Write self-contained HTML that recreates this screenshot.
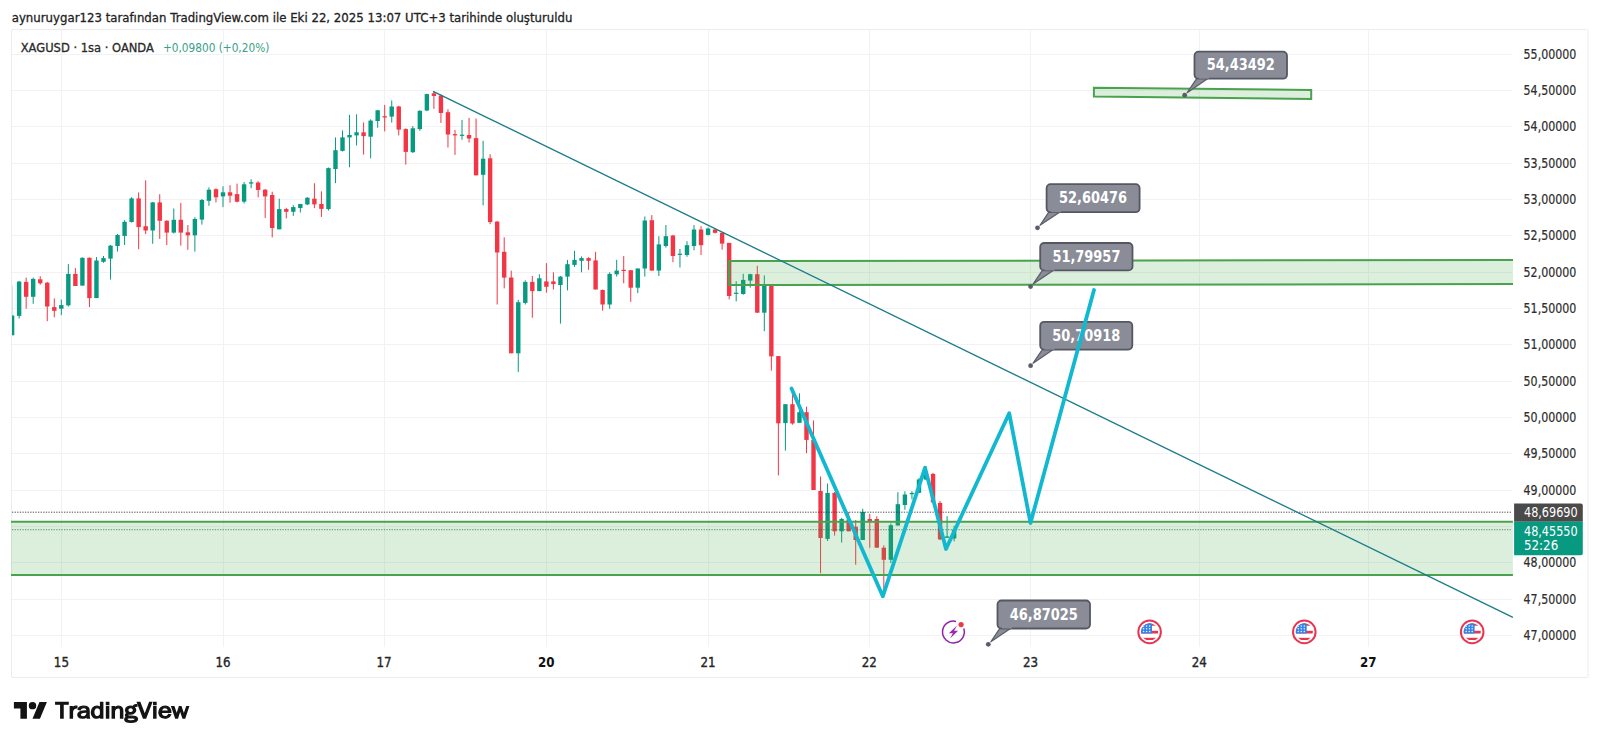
<!DOCTYPE html>
<html><head><meta charset="utf-8">
<style>
html,body{margin:0;padding:0;background:#fff;}
body{width:1600px;height:744px;overflow:hidden;position:relative;}
svg{position:absolute;left:0;top:0;}
</style></head><body>
<svg width="1600" height="744" viewBox="0 0 1600 744">
<defs><clipPath id="cp"><rect x="12" y="30" width="1500" height="617"/></clipPath></defs>
<rect x="11.5" y="29.5" width="1576.5" height="648" rx="1.5" fill="none" stroke="#ececec" stroke-width="1"/>
<line x1="12" y1="54.5" x2="1512" y2="54.5" stroke="#f2f2f4" stroke-width="1"/>
<line x1="12" y1="90.5" x2="1512" y2="90.5" stroke="#f2f2f4" stroke-width="1"/>
<line x1="12" y1="126.5" x2="1512" y2="126.5" stroke="#f2f2f4" stroke-width="1"/>
<line x1="12" y1="163.5" x2="1512" y2="163.5" stroke="#f2f2f4" stroke-width="1"/>
<line x1="12" y1="199.5" x2="1512" y2="199.5" stroke="#f2f2f4" stroke-width="1"/>
<line x1="12" y1="235.5" x2="1512" y2="235.5" stroke="#f2f2f4" stroke-width="1"/>
<line x1="12" y1="272.5" x2="1512" y2="272.5" stroke="#f2f2f4" stroke-width="1"/>
<line x1="12" y1="308.5" x2="1512" y2="308.5" stroke="#f2f2f4" stroke-width="1"/>
<line x1="12" y1="344.5" x2="1512" y2="344.5" stroke="#f2f2f4" stroke-width="1"/>
<line x1="12" y1="381.5" x2="1512" y2="381.5" stroke="#f2f2f4" stroke-width="1"/>
<line x1="12" y1="417.5" x2="1512" y2="417.5" stroke="#f2f2f4" stroke-width="1"/>
<line x1="12" y1="453.5" x2="1512" y2="453.5" stroke="#f2f2f4" stroke-width="1"/>
<line x1="12" y1="490.5" x2="1512" y2="490.5" stroke="#f2f2f4" stroke-width="1"/>
<line x1="12" y1="526.5" x2="1512" y2="526.5" stroke="#f2f2f4" stroke-width="1"/>
<line x1="12" y1="562.5" x2="1512" y2="562.5" stroke="#f2f2f4" stroke-width="1"/>
<line x1="12" y1="599.5" x2="1512" y2="599.5" stroke="#f2f2f4" stroke-width="1"/>
<line x1="12" y1="635.5" x2="1512" y2="635.5" stroke="#f2f2f4" stroke-width="1"/>
<line x1="61.5" y1="30" x2="61.5" y2="647" stroke="#f2f2f4" stroke-width="1"/>
<line x1="223.5" y1="30" x2="223.5" y2="647" stroke="#f2f2f4" stroke-width="1"/>
<line x1="384.5" y1="30" x2="384.5" y2="647" stroke="#f2f2f4" stroke-width="1"/>
<line x1="546.5" y1="30" x2="546.5" y2="647" stroke="#f2f2f4" stroke-width="1"/>
<line x1="708.5" y1="30" x2="708.5" y2="647" stroke="#f2f2f4" stroke-width="1"/>
<line x1="869.5" y1="30" x2="869.5" y2="647" stroke="#f2f2f4" stroke-width="1"/>
<line x1="1030.5" y1="30" x2="1030.5" y2="647" stroke="#f2f2f4" stroke-width="1"/>
<line x1="1199.5" y1="30" x2="1199.5" y2="647" stroke="#f2f2f4" stroke-width="1"/>
<line x1="1368.5" y1="30" x2="1368.5" y2="647" stroke="#f2f2f4" stroke-width="1"/>
<g clip-path="url(#cp)">
<rect x="11.60" y="285.6" width="1" height="49.7" fill="#089981" opacity="0.35"/>
<rect x="9.90" y="315.5" width="4.4" height="19.8" fill="#089981"/>
<rect x="18.63" y="280.9" width="1" height="37.6" fill="#089981"/>
<rect x="16.93" y="281.6" width="4.4" height="34.3" fill="#089981"/>
<rect x="25.66" y="277.6" width="1" height="31.1" fill="#F23645"/>
<rect x="23.96" y="281.9" width="4.4" height="14.9" fill="#F23645"/>
<rect x="32.69" y="277.6" width="1" height="26.2" fill="#089981"/>
<rect x="30.99" y="278.9" width="4.4" height="17.9" fill="#089981"/>
<rect x="39.72" y="276.2" width="1" height="8.5" fill="#F23645"/>
<rect x="38.02" y="279.3" width="4.4" height="4.0" fill="#F23645"/>
<rect x="46.75" y="281.9" width="1" height="39.3" fill="#F23645"/>
<rect x="45.05" y="282.7" width="4.4" height="23.8" fill="#F23645"/>
<rect x="53.78" y="298.4" width="1" height="18.8" fill="#F23645"/>
<rect x="52.08" y="307.1" width="4.4" height="3.7" fill="#F23645"/>
<rect x="60.81" y="299.5" width="1" height="15.7" fill="#089981"/>
<rect x="59.11" y="305.1" width="4.4" height="3.6" fill="#089981"/>
<rect x="67.84" y="264.1" width="1" height="42.4" fill="#089981"/>
<rect x="66.14" y="273.9" width="4.4" height="31.5" fill="#089981"/>
<rect x="74.87" y="268.1" width="1" height="17.9" fill="#F23645"/>
<rect x="73.17" y="273.9" width="4.4" height="12.1" fill="#F23645"/>
<rect x="81.90" y="257.4" width="1" height="28.2" fill="#089981"/>
<rect x="80.20" y="257.8" width="4.4" height="27.8" fill="#089981"/>
<rect x="88.93" y="257.4" width="1" height="49.7" fill="#F23645"/>
<rect x="87.23" y="257.8" width="4.4" height="40.3" fill="#F23645"/>
<rect x="95.96" y="257.0" width="1" height="41.1" fill="#089981"/>
<rect x="94.26" y="260.5" width="4.4" height="37.6" fill="#089981"/>
<rect x="102.99" y="256.0" width="1" height="6.8" fill="#089981"/>
<rect x="101.29" y="258.1" width="4.4" height="3.7" fill="#089981"/>
<rect x="110.02" y="245.0" width="1" height="34.6" fill="#089981"/>
<rect x="108.32" y="245.6" width="4.4" height="13.0" fill="#089981"/>
<rect x="117.05" y="234.0" width="1" height="17.6" fill="#089981"/>
<rect x="115.35" y="235.0" width="4.4" height="11.0" fill="#089981"/>
<rect x="124.08" y="220.2" width="1" height="24.8" fill="#089981"/>
<rect x="122.38" y="221.8" width="4.4" height="14.1" fill="#089981"/>
<rect x="131.11" y="197.2" width="1" height="25.4" fill="#089981"/>
<rect x="129.41" y="198.4" width="4.4" height="23.6" fill="#089981"/>
<rect x="138.14" y="192.4" width="1" height="56.8" fill="#F23645"/>
<rect x="136.44" y="198.4" width="4.4" height="28.7" fill="#F23645"/>
<rect x="145.17" y="180.3" width="1" height="53.8" fill="#F23645"/>
<rect x="143.47" y="226.2" width="4.4" height="4.3" fill="#F23645"/>
<rect x="152.20" y="202.0" width="1" height="41.8" fill="#089981"/>
<rect x="150.50" y="202.4" width="4.4" height="28.1" fill="#089981"/>
<rect x="159.23" y="194.2" width="1" height="44.7" fill="#F23645"/>
<rect x="157.53" y="202.4" width="4.4" height="18.4" fill="#F23645"/>
<rect x="166.26" y="220.2" width="1" height="24.8" fill="#F23645"/>
<rect x="164.56" y="220.8" width="4.4" height="11.8" fill="#F23645"/>
<rect x="173.29" y="208.5" width="1" height="25.0" fill="#089981"/>
<rect x="171.59" y="219.8" width="4.4" height="12.8" fill="#089981"/>
<rect x="180.32" y="202.9" width="1" height="42.7" fill="#F23645"/>
<rect x="178.62" y="219.8" width="4.4" height="12.8" fill="#F23645"/>
<rect x="187.35" y="225.0" width="1" height="24.8" fill="#F23645"/>
<rect x="185.65" y="232.3" width="4.4" height="3.0" fill="#F23645"/>
<rect x="194.38" y="217.2" width="1" height="34.4" fill="#089981"/>
<rect x="192.68" y="219.0" width="4.4" height="16.3" fill="#089981"/>
<rect x="201.41" y="199.0" width="1" height="25.6" fill="#089981"/>
<rect x="199.71" y="200.0" width="4.4" height="19.6" fill="#089981"/>
<rect x="208.44" y="187.4" width="1" height="18.4" fill="#089981"/>
<rect x="206.74" y="189.7" width="4.4" height="11.1" fill="#089981"/>
<rect x="215.47" y="188.3" width="1" height="14.1" fill="#F23645"/>
<rect x="213.77" y="189.2" width="4.4" height="8.1" fill="#F23645"/>
<rect x="222.50" y="186.3" width="1" height="20.8" fill="#089981"/>
<rect x="220.80" y="192.3" width="4.4" height="4.1" fill="#089981"/>
<rect x="229.53" y="185.2" width="1" height="17.5" fill="#F23645"/>
<rect x="227.83" y="192.3" width="4.4" height="3.4" fill="#F23645"/>
<rect x="236.56" y="183.6" width="1" height="18.8" fill="#F23645"/>
<rect x="234.86" y="194.1" width="4.4" height="7.6" fill="#F23645"/>
<rect x="243.59" y="182.0" width="1" height="21.5" fill="#089981"/>
<rect x="241.89" y="184.3" width="4.4" height="17.4" fill="#089981"/>
<rect x="250.62" y="179.3" width="1" height="9.0" fill="#089981"/>
<rect x="248.92" y="182.3" width="4.4" height="1.3" fill="#089981"/>
<rect x="257.65" y="181.2" width="1" height="16.1" fill="#F23645"/>
<rect x="255.95" y="182.5" width="4.4" height="7.5" fill="#F23645"/>
<rect x="264.68" y="189.0" width="1" height="28.9" fill="#F23645"/>
<rect x="262.98" y="189.7" width="4.4" height="6.7" fill="#F23645"/>
<rect x="271.71" y="191.7" width="1" height="45.7" fill="#F23645"/>
<rect x="270.01" y="195.0" width="4.4" height="33.0" fill="#F23645"/>
<rect x="278.74" y="198.7" width="1" height="30.6" fill="#089981"/>
<rect x="277.04" y="209.1" width="4.4" height="20.2" fill="#089981"/>
<rect x="285.77" y="207.8" width="1" height="10.7" fill="#F23645"/>
<rect x="284.07" y="209.1" width="4.4" height="2.7" fill="#F23645"/>
<rect x="292.80" y="205.1" width="1" height="10.8" fill="#089981"/>
<rect x="291.10" y="207.1" width="4.4" height="4.7" fill="#089981"/>
<rect x="299.83" y="203.8" width="1" height="8.7" fill="#089981"/>
<rect x="298.13" y="204.0" width="4.4" height="4.0" fill="#089981"/>
<rect x="306.86" y="197.3" width="1" height="7.8" fill="#089981"/>
<rect x="305.16" y="197.7" width="4.4" height="6.7" fill="#089981"/>
<rect x="313.89" y="183.3" width="1" height="24.8" fill="#F23645"/>
<rect x="312.19" y="198.7" width="4.4" height="5.7" fill="#F23645"/>
<rect x="320.92" y="191.4" width="1" height="25.5" fill="#F23645"/>
<rect x="319.22" y="204.0" width="4.4" height="4.9" fill="#F23645"/>
<rect x="327.95" y="167.5" width="1" height="43.0" fill="#089981"/>
<rect x="326.25" y="168.1" width="4.4" height="41.0" fill="#089981"/>
<rect x="334.98" y="137.4" width="1" height="45.7" fill="#089981"/>
<rect x="333.28" y="150.2" width="4.4" height="18.8" fill="#089981"/>
<rect x="342.01" y="130.4" width="1" height="21.1" fill="#089981"/>
<rect x="340.31" y="137.4" width="4.4" height="13.5" fill="#089981"/>
<rect x="349.04" y="114.8" width="1" height="52.5" fill="#089981"/>
<rect x="347.34" y="135.0" width="4.4" height="2.4" fill="#089981"/>
<rect x="356.07" y="114.3" width="1" height="31.2" fill="#089981"/>
<rect x="354.37" y="132.3" width="4.4" height="3.1" fill="#089981"/>
<rect x="363.10" y="122.4" width="1" height="32.2" fill="#F23645"/>
<rect x="361.40" y="132.3" width="4.4" height="3.8" fill="#F23645"/>
<rect x="370.13" y="119.3" width="1" height="39.0" fill="#089981"/>
<rect x="368.43" y="120.6" width="4.4" height="16.1" fill="#089981"/>
<rect x="377.16" y="109.9" width="1" height="17.8" fill="#089981"/>
<rect x="375.46" y="110.3" width="4.4" height="10.7" fill="#089981"/>
<rect x="384.19" y="104.9" width="1" height="26.5" fill="#F23645"/>
<rect x="382.49" y="116.2" width="4.4" height="1.3" fill="#F23645"/>
<rect x="391.22" y="100.5" width="1" height="22.1" fill="#089981"/>
<rect x="389.52" y="106.5" width="4.4" height="10.1" fill="#089981"/>
<rect x="398.25" y="105.8" width="1" height="29.6" fill="#F23645"/>
<rect x="396.55" y="106.5" width="4.4" height="23.1" fill="#F23645"/>
<rect x="405.28" y="128.3" width="1" height="36.3" fill="#F23645"/>
<rect x="403.58" y="129.1" width="4.4" height="22.8" fill="#F23645"/>
<rect x="412.31" y="126.0" width="1" height="26.9" fill="#089981"/>
<rect x="410.61" y="128.3" width="4.4" height="23.9" fill="#089981"/>
<rect x="419.34" y="110.3" width="1" height="20.4" fill="#089981"/>
<rect x="417.64" y="110.8" width="4.4" height="18.3" fill="#089981"/>
<rect x="426.37" y="93.7" width="1" height="17.5" fill="#089981"/>
<rect x="424.67" y="94.1" width="4.4" height="16.4" fill="#089981"/>
<rect x="433.40" y="91.0" width="1" height="17.9" fill="#F23645"/>
<rect x="431.70" y="93.3" width="4.4" height="2.7" fill="#F23645"/>
<rect x="440.43" y="94.4" width="1" height="28.5" fill="#F23645"/>
<rect x="438.73" y="95.5" width="4.4" height="17.5" fill="#F23645"/>
<rect x="447.46" y="109.2" width="1" height="38.3" fill="#F23645"/>
<rect x="445.76" y="112.2" width="4.4" height="22.3" fill="#F23645"/>
<rect x="454.49" y="130.0" width="1" height="24.9" fill="#F23645"/>
<rect x="452.79" y="134.1" width="4.4" height="1.3" fill="#F23645"/>
<rect x="461.52" y="119.9" width="1" height="19.9" fill="#089981"/>
<rect x="459.82" y="134.7" width="4.4" height="1.2" fill="#089981"/>
<rect x="468.55" y="117.9" width="1" height="24.6" fill="#F23645"/>
<rect x="466.85" y="135.0" width="4.4" height="3.5" fill="#F23645"/>
<rect x="475.58" y="118.6" width="1" height="56.7" fill="#F23645"/>
<rect x="473.88" y="138.1" width="4.4" height="37.2" fill="#F23645"/>
<rect x="482.61" y="140.8" width="1" height="64.6" fill="#089981"/>
<rect x="480.91" y="158.7" width="4.4" height="16.1" fill="#089981"/>
<rect x="489.64" y="154.2" width="1" height="70.0" fill="#F23645"/>
<rect x="487.94" y="158.3" width="4.4" height="63.8" fill="#F23645"/>
<rect x="496.67" y="221.0" width="1" height="83.5" fill="#F23645"/>
<rect x="494.97" y="221.6" width="4.4" height="30.9" fill="#F23645"/>
<rect x="503.70" y="237.3" width="1" height="51.1" fill="#F23645"/>
<rect x="502.00" y="251.8" width="4.4" height="25.8" fill="#F23645"/>
<rect x="510.73" y="270.6" width="1" height="82.7" fill="#F23645"/>
<rect x="509.03" y="277.5" width="4.4" height="75.8" fill="#F23645"/>
<rect x="517.76" y="299.8" width="1" height="72.3" fill="#089981"/>
<rect x="516.06" y="302.2" width="4.4" height="51.1" fill="#089981"/>
<rect x="524.79" y="280.3" width="1" height="24.2" fill="#089981"/>
<rect x="523.09" y="281.9" width="4.4" height="21.0" fill="#089981"/>
<rect x="531.82" y="276.0" width="1" height="41.7" fill="#F23645"/>
<rect x="530.12" y="281.9" width="4.4" height="9.2" fill="#F23645"/>
<rect x="538.85" y="274.3" width="1" height="16.8" fill="#089981"/>
<rect x="537.15" y="278.3" width="4.4" height="12.8" fill="#089981"/>
<rect x="545.88" y="263.1" width="1" height="29.6" fill="#F23645"/>
<rect x="544.18" y="281.4" width="4.4" height="5.4" fill="#F23645"/>
<rect x="552.91" y="272.3" width="1" height="17.2" fill="#F23645"/>
<rect x="551.21" y="281.4" width="4.4" height="2.7" fill="#F23645"/>
<rect x="559.94" y="276.0" width="1" height="47.6" fill="#089981"/>
<rect x="558.24" y="276.6" width="4.4" height="8.4" fill="#089981"/>
<rect x="566.97" y="259.9" width="1" height="30.5" fill="#089981"/>
<rect x="565.27" y="264.2" width="4.4" height="12.4" fill="#089981"/>
<rect x="574.00" y="250.8" width="1" height="16.1" fill="#089981"/>
<rect x="572.30" y="259.9" width="4.4" height="5.0" fill="#089981"/>
<rect x="581.03" y="256.4" width="1" height="15.9" fill="#089981"/>
<rect x="579.33" y="258.1" width="4.4" height="2.7" fill="#089981"/>
<rect x="588.06" y="257.2" width="1" height="12.6" fill="#F23645"/>
<rect x="586.36" y="258.1" width="4.4" height="2.7" fill="#F23645"/>
<rect x="595.09" y="251.8" width="1" height="37.7" fill="#F23645"/>
<rect x="593.39" y="260.4" width="4.4" height="29.1" fill="#F23645"/>
<rect x="602.12" y="289.5" width="1" height="21.1" fill="#F23645"/>
<rect x="600.42" y="290.0" width="4.4" height="14.5" fill="#F23645"/>
<rect x="609.15" y="272.3" width="1" height="36.5" fill="#089981"/>
<rect x="607.45" y="273.9" width="4.4" height="30.6" fill="#089981"/>
<rect x="616.18" y="259.9" width="1" height="16.7" fill="#089981"/>
<rect x="614.48" y="270.6" width="4.4" height="3.7" fill="#089981"/>
<rect x="623.21" y="256.1" width="1" height="27.2" fill="#F23645"/>
<rect x="621.51" y="269.8" width="4.4" height="1.2" fill="#F23645"/>
<rect x="630.24" y="270.2" width="1" height="31.6" fill="#F23645"/>
<rect x="628.54" y="270.2" width="4.4" height="17.5" fill="#F23645"/>
<rect x="637.27" y="268.5" width="1" height="24.6" fill="#089981"/>
<rect x="635.57" y="268.5" width="4.4" height="19.2" fill="#089981"/>
<rect x="644.30" y="216.5" width="1" height="60.1" fill="#089981"/>
<rect x="642.60" y="220.5" width="4.4" height="48.0" fill="#089981"/>
<rect x="651.33" y="215.1" width="1" height="55.5" fill="#F23645"/>
<rect x="649.63" y="220.2" width="4.4" height="50.4" fill="#F23645"/>
<rect x="658.36" y="236.3" width="1" height="39.7" fill="#089981"/>
<rect x="656.66" y="244.4" width="4.4" height="26.2" fill="#089981"/>
<rect x="665.39" y="225.0" width="1" height="22.6" fill="#089981"/>
<rect x="663.69" y="236.2" width="4.4" height="9.8" fill="#089981"/>
<rect x="672.42" y="234.9" width="1" height="27.3" fill="#F23645"/>
<rect x="670.72" y="235.5" width="4.4" height="20.5" fill="#F23645"/>
<rect x="679.45" y="249.0" width="1" height="18.5" fill="#089981"/>
<rect x="677.75" y="253.7" width="4.4" height="1.2" fill="#089981"/>
<rect x="686.48" y="241.2" width="1" height="15.6" fill="#089981"/>
<rect x="684.78" y="245.2" width="4.4" height="9.8" fill="#089981"/>
<rect x="693.51" y="225.0" width="1" height="25.3" fill="#089981"/>
<rect x="691.81" y="229.5" width="4.4" height="16.5" fill="#089981"/>
<rect x="700.54" y="226.1" width="1" height="28.9" fill="#F23645"/>
<rect x="698.84" y="229.5" width="4.4" height="15.7" fill="#F23645"/>
<rect x="707.57" y="227.5" width="1" height="8.0" fill="#089981"/>
<rect x="705.87" y="228.5" width="4.4" height="6.4" fill="#089981"/>
<rect x="714.60" y="228.8" width="1" height="4.7" fill="#F23645"/>
<rect x="712.90" y="229.5" width="4.4" height="3.3" fill="#F23645"/>
<rect x="721.63" y="232.2" width="1" height="17.5" fill="#F23645"/>
<rect x="719.93" y="232.8" width="4.4" height="10.8" fill="#F23645"/>
<rect x="728.66" y="242.9" width="1" height="56.5" fill="#F23645"/>
<rect x="726.96" y="242.9" width="4.4" height="53.1" fill="#F23645"/>
<rect x="735.69" y="281.2" width="1" height="20.2" fill="#089981"/>
<rect x="733.99" y="292.7" width="4.4" height="1.2" fill="#089981"/>
<rect x="742.72" y="273.8" width="1" height="20.9" fill="#089981"/>
<rect x="741.02" y="279.9" width="4.4" height="14.1" fill="#089981"/>
<rect x="749.75" y="273.8" width="1" height="13.9" fill="#089981"/>
<rect x="748.05" y="274.2" width="4.4" height="6.4" fill="#089981"/>
<rect x="756.78" y="265.8" width="1" height="46.9" fill="#F23645"/>
<rect x="755.08" y="274.2" width="4.4" height="38.5" fill="#F23645"/>
<rect x="763.81" y="275.4" width="1" height="55.8" fill="#089981"/>
<rect x="762.11" y="285.9" width="4.4" height="26.8" fill="#089981"/>
<rect x="770.84" y="285.9" width="1" height="84.7" fill="#F23645"/>
<rect x="769.14" y="285.9" width="4.4" height="70.5" fill="#F23645"/>
<rect x="777.87" y="356.1" width="1" height="119.3" fill="#F23645"/>
<rect x="776.17" y="356.1" width="4.4" height="67.2" fill="#F23645"/>
<rect x="784.90" y="404.2" width="1" height="46.4" fill="#089981"/>
<rect x="783.20" y="404.2" width="4.4" height="18.9" fill="#089981"/>
<rect x="791.93" y="393.3" width="1" height="31.4" fill="#F23645"/>
<rect x="790.23" y="404.2" width="4.4" height="19.3" fill="#F23645"/>
<rect x="798.96" y="393.3" width="1" height="29.5" fill="#089981"/>
<rect x="797.26" y="412.2" width="4.4" height="10.6" fill="#089981"/>
<rect x="805.99" y="406.7" width="1" height="46.4" fill="#F23645"/>
<rect x="804.29" y="412.2" width="4.4" height="27.7" fill="#F23645"/>
<rect x="813.02" y="420.4" width="1" height="69.6" fill="#F23645"/>
<rect x="811.32" y="439.9" width="4.4" height="50.1" fill="#F23645"/>
<rect x="820.05" y="476.4" width="1" height="96.8" fill="#F23645"/>
<rect x="818.35" y="491.0" width="4.4" height="47.0" fill="#F23645"/>
<rect x="827.08" y="483.5" width="1" height="57.5" fill="#089981"/>
<rect x="825.38" y="492.9" width="4.4" height="46.0" fill="#089981"/>
<rect x="834.11" y="492.0" width="1" height="43.6" fill="#F23645"/>
<rect x="832.41" y="492.9" width="4.4" height="38.4" fill="#F23645"/>
<rect x="841.14" y="517.9" width="1" height="24.7" fill="#089981"/>
<rect x="839.44" y="519.0" width="4.4" height="12.3" fill="#089981"/>
<rect x="848.17" y="512.0" width="1" height="19.3" fill="#F23645"/>
<rect x="846.47" y="519.5" width="4.4" height="11.8" fill="#F23645"/>
<rect x="855.20" y="520.0" width="1" height="44.7" fill="#F23645"/>
<rect x="853.50" y="526.8" width="4.4" height="13.2" fill="#F23645"/>
<rect x="862.23" y="508.7" width="1" height="31.3" fill="#089981"/>
<rect x="860.53" y="511.9" width="4.4" height="28.1" fill="#089981"/>
<rect x="869.26" y="513.9" width="1" height="33.8" fill="#F23645"/>
<rect x="867.56" y="519.0" width="4.4" height="2.1" fill="#F23645"/>
<rect x="876.29" y="516.3" width="1" height="31.4" fill="#F23645"/>
<rect x="874.59" y="519.0" width="4.4" height="28.7" fill="#F23645"/>
<rect x="883.32" y="545.3" width="1" height="47.6" fill="#F23645"/>
<rect x="881.62" y="547.7" width="4.4" height="12.1" fill="#F23645"/>
<rect x="890.35" y="523.5" width="1" height="39.5" fill="#089981"/>
<rect x="888.65" y="525.2" width="4.4" height="34.6" fill="#089981"/>
<rect x="897.38" y="492.1" width="1" height="33.4" fill="#089981"/>
<rect x="895.68" y="504.2" width="4.4" height="21.3" fill="#089981"/>
<rect x="904.41" y="491.3" width="1" height="18.5" fill="#089981"/>
<rect x="902.71" y="494.5" width="4.4" height="10.5" fill="#089981"/>
<rect x="911.44" y="491.3" width="1" height="8.1" fill="#089981"/>
<rect x="909.74" y="492.9" width="4.4" height="1.3" fill="#089981"/>
<rect x="918.47" y="478.0" width="1" height="15.0" fill="#089981"/>
<rect x="916.77" y="479.5" width="4.4" height="13.3" fill="#089981"/>
<rect x="925.50" y="466.0" width="1" height="14.0" fill="#089981"/>
<rect x="923.80" y="473.9" width="4.4" height="5.6" fill="#089981"/>
<rect x="932.53" y="472.9" width="1" height="30.1" fill="#F23645"/>
<rect x="930.83" y="473.9" width="4.4" height="28.5" fill="#F23645"/>
<rect x="939.56" y="501.0" width="1" height="39.1" fill="#F23645"/>
<rect x="937.86" y="502.9" width="4.4" height="36.5" fill="#F23645"/>
<rect x="946.59" y="516.1" width="1" height="21.9" fill="#089981"/>
<rect x="944.89" y="536.4" width="4.4" height="1.4" fill="#089981"/>
<rect x="953.62" y="525.8" width="1" height="15.5" fill="#089981"/>
<rect x="951.92" y="529.6" width="4.4" height="8.9" fill="#089981"/>
</g>
<line x1="12" y1="512.2" x2="1512" y2="512.2" stroke="#333" stroke-width="1" stroke-dasharray="1.3 1.3" opacity="0.85"/>
<rect x="11" y="521.8" width="1501.9" height="53.2" fill="rgba(76,175,80,0.2)"/>
<line x1="11" y1="521.8" x2="1512.9" y2="521.8" stroke="#4aa24e" stroke-width="2"/>
<line x1="11" y1="575" x2="1512.9" y2="575" stroke="#4aa24e" stroke-width="2"/>
<line x1="12" y1="529.7" x2="1512" y2="529.7" stroke="#2f6e5c" stroke-width="1" stroke-dasharray="1.3 1.3" opacity="0.75"/>
<path d="M1513 260.0 L729.1 261.1 L729.1 285.0 L1513 284.1 Z" fill="rgba(76,175,80,0.2)"/>
<path d="M1513 260.0 L729.1 261.1 L729.1 285.0 L1513 284.1" fill="none" stroke="#4aa24e" stroke-width="2"/>
<path d="M1093.9 87.7 L1311.2 90 L1311.2 98.9 L1093.9 96.5 Z" fill="rgba(76,175,80,0.2)" stroke="#4aa24e" stroke-width="2"/>
<line x1="433.1" y1="91.3" x2="1512.9" y2="617.3" stroke="#1b7c8a" stroke-width="1.3"/>
<path d="M1198.0 76.7 L1187.2 92.7 L1209.0 77.7 Z" fill="#8a8d98" stroke="#5a5d68" stroke-width="1.2" stroke-linejoin="round"/>
<rect x="1194.5" y="51.7" width="92.5" height="27" rx="4" fill="#8a8d98" stroke="#555863" stroke-width="1.8"/>
<rect x="1198.8" y="75.7" width="10.0" height="3" fill="#8a8d98"/>
<circle cx="1184.7" cy="95.2" r="2.4" fill="#5a5d68"/>
<text x="1240.8" y="70.2" font-family="'DejaVu Sans Condensed','DejaVu Sans',sans-serif" font-size="16" font-weight="700" fill="#fff" text-anchor="middle" textLength="68" lengthAdjust="spacingAndGlyphs">54,43492</text>
<path d="M1050.1 210.2 L1040.0 225.3 L1061.1 211.2 Z" fill="#8a8d98" stroke="#5a5d68" stroke-width="1.2" stroke-linejoin="round"/>
<rect x="1046.6" y="184.2" width="93" height="28" rx="4" fill="#8a8d98" stroke="#555863" stroke-width="1.8"/>
<rect x="1050.8999999999999" y="209.2" width="10.0" height="3" fill="#8a8d98"/>
<circle cx="1037.5" cy="227.8" r="2.4" fill="#5a5d68"/>
<text x="1093.1" y="203.2" font-family="'DejaVu Sans Condensed','DejaVu Sans',sans-serif" font-size="16" font-weight="700" fill="#fff" text-anchor="middle" textLength="68" lengthAdjust="spacingAndGlyphs">52,60476</text>
<path d="M1043.7 268.4 L1033.1 284.1 L1054.7 269.4 Z" fill="#8a8d98" stroke="#5a5d68" stroke-width="1.2" stroke-linejoin="round"/>
<rect x="1040.2" y="243.0" width="92.3" height="27.4" rx="4" fill="#8a8d98" stroke="#555863" stroke-width="1.8"/>
<rect x="1044.5" y="267.4" width="10.0" height="3" fill="#8a8d98"/>
<circle cx="1030.6" cy="286.6" r="2.4" fill="#5a5d68"/>
<text x="1086.4" y="261.7" font-family="'DejaVu Sans Condensed','DejaVu Sans',sans-serif" font-size="16" font-weight="700" fill="#fff" text-anchor="middle" textLength="68" lengthAdjust="spacingAndGlyphs">51,79957</text>
<path d="M1043.7 347.6 L1033.1 363.2 L1054.7 348.6 Z" fill="#8a8d98" stroke="#5a5d68" stroke-width="1.2" stroke-linejoin="round"/>
<rect x="1040.2" y="321.8" width="92.1" height="27.8" rx="4" fill="#8a8d98" stroke="#555863" stroke-width="1.8"/>
<rect x="1044.5" y="346.6" width="10.0" height="3" fill="#8a8d98"/>
<circle cx="1030.6" cy="365.7" r="2.4" fill="#5a5d68"/>
<text x="1086.2" y="340.7" font-family="'DejaVu Sans Condensed','DejaVu Sans',sans-serif" font-size="16" font-weight="700" fill="#fff" text-anchor="middle" textLength="68" lengthAdjust="spacingAndGlyphs">50,70918</text>
<path d="M1001.0 626.5 L990.8 641.8 L1012.0 627.5 Z" fill="#8a8d98" stroke="#5a5d68" stroke-width="1.2" stroke-linejoin="round"/>
<rect x="997.5" y="600.5" width="92.5" height="28" rx="4" fill="#8a8d98" stroke="#555863" stroke-width="1.8"/>
<rect x="1001.8" y="625.5" width="10.0" height="3" fill="#8a8d98"/>
<circle cx="988.3" cy="644.3" r="2.4" fill="#5a5d68"/>
<text x="1043.8" y="619.5" font-family="'DejaVu Sans Condensed','DejaVu Sans',sans-serif" font-size="16" font-weight="700" fill="#fff" text-anchor="middle" textLength="68" lengthAdjust="spacingAndGlyphs">46,87025</text>
<polyline points="791.5,388.5 882.8,596.3 925,467.8 946.0,549.0 1009.2,413.2 1030.5,523 1094,290" fill="none" stroke="#12b8d0" stroke-width="3.8" stroke-linejoin="round" stroke-linecap="round"/>
<g transform="translate(1149.6,631.9)">
<circle r="11.3" fill="#fff" stroke="#e8344e" stroke-width="2"/>
<clipPath id="fc1149"><circle r="8.6"/></clipPath>
<g clip-path="url(#fc1149)">
<rect x="-9" y="-9" width="18" height="18" fill="#fff"/>
<rect x="-9" y="-9" width="18" height="2.8" fill="#e8344e"/>
<rect x="-9" y="-1.1" width="18" height="2.7" fill="#e8344e"/>
<rect x="-9" y="5.9" width="18" height="2.2" fill="#e8344e"/>
<rect x="-9" y="-9" width="11.4" height="10.6" fill="#3483e6"/>
<circle cx="-6" cy="-5.8" r="0.8" fill="#e6f0ff"/>
<circle cx="-3" cy="-5.8" r="0.8" fill="#e6f0ff"/>
<circle cx="0" cy="-5.8" r="0.8" fill="#e6f0ff"/>
<circle cx="-6" cy="-3.1" r="0.8" fill="#e6f0ff"/>
<circle cx="-3" cy="-3.1" r="0.8" fill="#e6f0ff"/>
<circle cx="0" cy="-3.1" r="0.8" fill="#e6f0ff"/>
<circle cx="-6" cy="-0.4" r="0.8" fill="#e6f0ff"/>
<circle cx="-3" cy="-0.4" r="0.8" fill="#e6f0ff"/>
<circle cx="0" cy="-0.4" r="0.8" fill="#e6f0ff"/>
</g></g>
<g transform="translate(1304.3,631.9)">
<circle r="11.3" fill="#fff" stroke="#e8344e" stroke-width="2"/>
<clipPath id="fc1304"><circle r="8.6"/></clipPath>
<g clip-path="url(#fc1304)">
<rect x="-9" y="-9" width="18" height="18" fill="#fff"/>
<rect x="-9" y="-9" width="18" height="2.8" fill="#e8344e"/>
<rect x="-9" y="-1.1" width="18" height="2.7" fill="#e8344e"/>
<rect x="-9" y="5.9" width="18" height="2.2" fill="#e8344e"/>
<rect x="-9" y="-9" width="11.4" height="10.6" fill="#3483e6"/>
<circle cx="-6" cy="-5.8" r="0.8" fill="#e6f0ff"/>
<circle cx="-3" cy="-5.8" r="0.8" fill="#e6f0ff"/>
<circle cx="0" cy="-5.8" r="0.8" fill="#e6f0ff"/>
<circle cx="-6" cy="-3.1" r="0.8" fill="#e6f0ff"/>
<circle cx="-3" cy="-3.1" r="0.8" fill="#e6f0ff"/>
<circle cx="0" cy="-3.1" r="0.8" fill="#e6f0ff"/>
<circle cx="-6" cy="-0.4" r="0.8" fill="#e6f0ff"/>
<circle cx="-3" cy="-0.4" r="0.8" fill="#e6f0ff"/>
<circle cx="0" cy="-0.4" r="0.8" fill="#e6f0ff"/>
</g></g>
<g transform="translate(1472.2,631.9)">
<circle r="11.3" fill="#fff" stroke="#e8344e" stroke-width="2"/>
<clipPath id="fc1472"><circle r="8.6"/></clipPath>
<g clip-path="url(#fc1472)">
<rect x="-9" y="-9" width="18" height="18" fill="#fff"/>
<rect x="-9" y="-9" width="18" height="2.8" fill="#e8344e"/>
<rect x="-9" y="-1.1" width="18" height="2.7" fill="#e8344e"/>
<rect x="-9" y="5.9" width="18" height="2.2" fill="#e8344e"/>
<rect x="-9" y="-9" width="11.4" height="10.6" fill="#3483e6"/>
<circle cx="-6" cy="-5.8" r="0.8" fill="#e6f0ff"/>
<circle cx="-3" cy="-5.8" r="0.8" fill="#e6f0ff"/>
<circle cx="0" cy="-5.8" r="0.8" fill="#e6f0ff"/>
<circle cx="-6" cy="-3.1" r="0.8" fill="#e6f0ff"/>
<circle cx="-3" cy="-3.1" r="0.8" fill="#e6f0ff"/>
<circle cx="0" cy="-3.1" r="0.8" fill="#e6f0ff"/>
<circle cx="-6" cy="-0.4" r="0.8" fill="#e6f0ff"/>
<circle cx="-3" cy="-0.4" r="0.8" fill="#e6f0ff"/>
<circle cx="0" cy="-0.4" r="0.8" fill="#e6f0ff"/>
</g></g>
<g transform="translate(953.5,632)">
<path d="M2.6 -10.6 A10.9 10.9 0 1 0 10.3 -3.4" fill="none" stroke="#8e24aa" stroke-width="1.5"/>
<path d="M3.4 -6.6 L-4.6 1.2 L-0.6 1.2 L-3.4 6.6 L4.6 -1.2 L0.6 -1.2 Z" fill="#9c27b0"/>
<circle cx="7.6" cy="-7.4" r="2.6" fill="#f23645"/>
</g>
<text x="11.7" y="21.5" font-family="'DejaVu Sans','DejaVu Sans Condensed',sans-serif" font-size="12.4" font-weight="400" fill="#222" text-anchor="start" textLength="560.8" lengthAdjust="spacingAndGlyphs" stroke="#222" stroke-width="0.3">aynuruygar123 tarafından TradingView.com ile Eki 22, 2025 13:07 UTC+3 tarihinde oluşturuldu</text>
<text x="20.7" y="51.9" font-family="'DejaVu Sans Condensed','DejaVu Sans',sans-serif" font-size="12.9" font-weight="400" fill="#2a2a2a" text-anchor="start" textLength="133.2" lengthAdjust="spacingAndGlyphs" stroke="#2a2a2a" stroke-width="0.3">XAGUSD · 1sa · OANDA</text>
<text x="162.9" y="51.9" font-family="'DejaVu Sans Condensed','DejaVu Sans',sans-serif" font-size="12.9" font-weight="400" fill="#3a9f86" text-anchor="start" textLength="106.4" lengthAdjust="spacingAndGlyphs">+0,09800 (+0,20%)</text>
<text x="1523.6" y="58.6" font-family="'DejaVu Sans Condensed','DejaVu Sans',sans-serif" font-size="13.2" font-weight="400" fill="#2e2e2e" text-anchor="start" textLength="52.7" lengthAdjust="spacingAndGlyphs" stroke="#2e2e2e" stroke-width="0.2">55,00000</text>
<text x="1523.6" y="94.9" font-family="'DejaVu Sans Condensed','DejaVu Sans',sans-serif" font-size="13.2" font-weight="400" fill="#2e2e2e" text-anchor="start" textLength="52.7" lengthAdjust="spacingAndGlyphs" stroke="#2e2e2e" stroke-width="0.2">54,50000</text>
<text x="1523.6" y="131.3" font-family="'DejaVu Sans Condensed','DejaVu Sans',sans-serif" font-size="13.2" font-weight="400" fill="#2e2e2e" text-anchor="start" textLength="52.7" lengthAdjust="spacingAndGlyphs" stroke="#2e2e2e" stroke-width="0.2">54,00000</text>
<text x="1523.6" y="167.6" font-family="'DejaVu Sans Condensed','DejaVu Sans',sans-serif" font-size="13.2" font-weight="400" fill="#2e2e2e" text-anchor="start" textLength="52.7" lengthAdjust="spacingAndGlyphs" stroke="#2e2e2e" stroke-width="0.2">53,50000</text>
<text x="1523.6" y="204.0" font-family="'DejaVu Sans Condensed','DejaVu Sans',sans-serif" font-size="13.2" font-weight="400" fill="#2e2e2e" text-anchor="start" textLength="52.7" lengthAdjust="spacingAndGlyphs" stroke="#2e2e2e" stroke-width="0.2">53,00000</text>
<text x="1523.6" y="240.3" font-family="'DejaVu Sans Condensed','DejaVu Sans',sans-serif" font-size="13.2" font-weight="400" fill="#2e2e2e" text-anchor="start" textLength="52.7" lengthAdjust="spacingAndGlyphs" stroke="#2e2e2e" stroke-width="0.2">52,50000</text>
<text x="1523.6" y="276.7" font-family="'DejaVu Sans Condensed','DejaVu Sans',sans-serif" font-size="13.2" font-weight="400" fill="#2e2e2e" text-anchor="start" textLength="52.7" lengthAdjust="spacingAndGlyphs" stroke="#2e2e2e" stroke-width="0.2">52,00000</text>
<text x="1523.6" y="313.0" font-family="'DejaVu Sans Condensed','DejaVu Sans',sans-serif" font-size="13.2" font-weight="400" fill="#2e2e2e" text-anchor="start" textLength="52.7" lengthAdjust="spacingAndGlyphs" stroke="#2e2e2e" stroke-width="0.2">51,50000</text>
<text x="1523.6" y="349.4" font-family="'DejaVu Sans Condensed','DejaVu Sans',sans-serif" font-size="13.2" font-weight="400" fill="#2e2e2e" text-anchor="start" textLength="52.7" lengthAdjust="spacingAndGlyphs" stroke="#2e2e2e" stroke-width="0.2">51,00000</text>
<text x="1523.6" y="385.7" font-family="'DejaVu Sans Condensed','DejaVu Sans',sans-serif" font-size="13.2" font-weight="400" fill="#2e2e2e" text-anchor="start" textLength="52.7" lengthAdjust="spacingAndGlyphs" stroke="#2e2e2e" stroke-width="0.2">50,50000</text>
<text x="1523.6" y="422.1" font-family="'DejaVu Sans Condensed','DejaVu Sans',sans-serif" font-size="13.2" font-weight="400" fill="#2e2e2e" text-anchor="start" textLength="52.7" lengthAdjust="spacingAndGlyphs" stroke="#2e2e2e" stroke-width="0.2">50,00000</text>
<text x="1523.6" y="458.4" font-family="'DejaVu Sans Condensed','DejaVu Sans',sans-serif" font-size="13.2" font-weight="400" fill="#2e2e2e" text-anchor="start" textLength="52.7" lengthAdjust="spacingAndGlyphs" stroke="#2e2e2e" stroke-width="0.2">49,50000</text>
<text x="1523.6" y="494.7" font-family="'DejaVu Sans Condensed','DejaVu Sans',sans-serif" font-size="13.2" font-weight="400" fill="#2e2e2e" text-anchor="start" textLength="52.7" lengthAdjust="spacingAndGlyphs" stroke="#2e2e2e" stroke-width="0.2">49,00000</text>
<text x="1523.6" y="567.4" font-family="'DejaVu Sans Condensed','DejaVu Sans',sans-serif" font-size="13.2" font-weight="400" fill="#2e2e2e" text-anchor="start" textLength="52.7" lengthAdjust="spacingAndGlyphs" stroke="#2e2e2e" stroke-width="0.2">48,00000</text>
<text x="1523.6" y="603.8" font-family="'DejaVu Sans Condensed','DejaVu Sans',sans-serif" font-size="13.2" font-weight="400" fill="#2e2e2e" text-anchor="start" textLength="52.7" lengthAdjust="spacingAndGlyphs" stroke="#2e2e2e" stroke-width="0.2">47,50000</text>
<text x="1523.6" y="640.1" font-family="'DejaVu Sans Condensed','DejaVu Sans',sans-serif" font-size="13.2" font-weight="400" fill="#2e2e2e" text-anchor="start" textLength="52.7" lengthAdjust="spacingAndGlyphs" stroke="#2e2e2e" stroke-width="0.2">47,00000</text>
<text x="61.4" y="667" font-family="'DejaVu Sans Condensed','DejaVu Sans',sans-serif" font-size="13.2" font-weight="400" fill="#262626" text-anchor="middle" stroke="#262626" stroke-width="0.35">15</text>
<text x="223" y="667" font-family="'DejaVu Sans Condensed','DejaVu Sans',sans-serif" font-size="13.2" font-weight="400" fill="#262626" text-anchor="middle" stroke="#262626" stroke-width="0.35">16</text>
<text x="384" y="667" font-family="'DejaVu Sans Condensed','DejaVu Sans',sans-serif" font-size="13.2" font-weight="400" fill="#262626" text-anchor="middle" stroke="#262626" stroke-width="0.35">17</text>
<text x="546.2" y="667" font-family="'DejaVu Sans Condensed','DejaVu Sans',sans-serif" font-size="13.2" font-weight="700" fill="#111" text-anchor="middle">20</text>
<text x="708" y="667" font-family="'DejaVu Sans Condensed','DejaVu Sans',sans-serif" font-size="13.2" font-weight="400" fill="#262626" text-anchor="middle" stroke="#262626" stroke-width="0.35">21</text>
<text x="869.3" y="667" font-family="'DejaVu Sans Condensed','DejaVu Sans',sans-serif" font-size="13.2" font-weight="400" fill="#262626" text-anchor="middle" stroke="#262626" stroke-width="0.35">22</text>
<text x="1030.5" y="667" font-family="'DejaVu Sans Condensed','DejaVu Sans',sans-serif" font-size="13.2" font-weight="400" fill="#262626" text-anchor="middle" stroke="#262626" stroke-width="0.35">23</text>
<text x="1199.3" y="667" font-family="'DejaVu Sans Condensed','DejaVu Sans',sans-serif" font-size="13.2" font-weight="400" fill="#262626" text-anchor="middle" stroke="#262626" stroke-width="0.35">24</text>
<text x="1368.3" y="667" font-family="'DejaVu Sans Condensed','DejaVu Sans',sans-serif" font-size="13.2" font-weight="700" fill="#111" text-anchor="middle">27</text>
<path d="M1514.1 503.5 H1580.8 Q1582.8 503.5 1582.8 505.5 V521.8 H1514.1 Z" fill="#4a4a4a"/>
<text x="1524" y="517.3" font-family="'DejaVu Sans Condensed','DejaVu Sans',sans-serif" font-size="13.2" font-weight="400" fill="#fff" text-anchor="start" textLength="53.6" lengthAdjust="spacingAndGlyphs">48,69690</text>
<path d="M1514.1 521.8 H1582.8 V553.2 Q1582.8 555.2 1580.8 555.2 H1514.1 Z" fill="#089981"/>
<text x="1524" y="535.6" font-family="'DejaVu Sans Condensed','DejaVu Sans',sans-serif" font-size="13.2" font-weight="400" fill="#fff" text-anchor="start" textLength="53.6" lengthAdjust="spacingAndGlyphs">48,45550</text>
<text x="1524" y="550.3" font-family="'DejaVu Sans Condensed','DejaVu Sans',sans-serif" font-size="13.2" font-weight="400" fill="#fff" text-anchor="start">52:26</text>
<g transform="translate(13.9,698.2) scale(0.93)"><path d="M14 22H7V11H0V4h14v18zM28 22h-8l7.5-18h8L28 22z" fill="#131313"/><circle cx="20" cy="8" r="4" fill="#131313"/></g>
<text x="55.5" y="717.8" font-family="'WenQuanYi Zen Hei','Liberation Sans',sans-serif" font-size="22.6" font-weight="400" fill="#131313" text-anchor="start" textLength="133.3" lengthAdjust="spacingAndGlyphs" stroke="#131313" stroke-width="1.3">TradingView</text>
</svg>
</body></html>
